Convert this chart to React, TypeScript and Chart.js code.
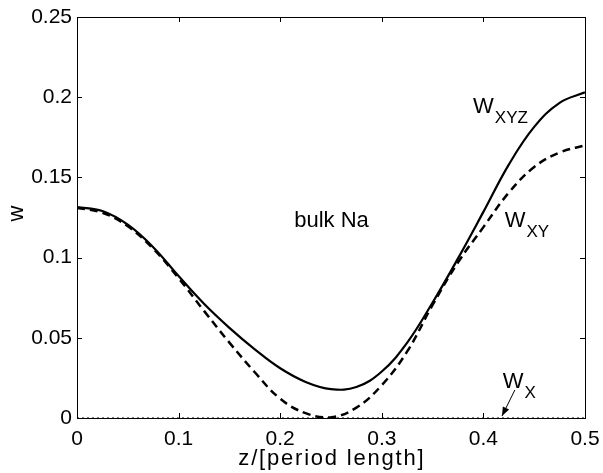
import React, { useEffect, useRef } from "react";
import { Chart, registerables } from "chart.js";

Chart.register(...registerables);

// z / [period length]
const zValues = [0, 0.025, 0.05, 0.075, 0.1, 0.125, 0.15, 0.175, 0.2, 0.225, 0.25, 0.275, 0.3, 0.325, 0.35, 0.375, 0.4, 0.425, 0.45, 0.475, 0.5];
// W_XYZ (solid)
const wXYZ = [0.1315, 0.129, 0.1205, 0.1065, 0.0885, 0.0712, 0.0562, 0.0428, 0.031, 0.0225, 0.018, 0.0193, 0.029, 0.047, 0.072, 0.0995, 0.1285, 0.158, 0.1815, 0.1965, 0.203];
// W_XY (dashed)
const wXY = [0.131, 0.128, 0.1195, 0.1055, 0.0872, 0.0668, 0.047, 0.0285, 0.012, 0.003, 0.0005, 0.0065, 0.0205, 0.0415, 0.0705, 0.097, 0.119, 0.1405, 0.1565, 0.1655, 0.17];
// W_X (dotted, along zero)
const wX = [0, 0, 0, 0, 0, 0, 0, 0, 0, 0, 0, 0, 0, 0, 0, 0, 0, 0, 0, 0, 0];

const xTicks = [0, 0.1, 0.2, 0.3, 0.4, 0.5];
const yTicks = [0, 0.05, 0.1, 0.15, 0.2, 0.25];

const FONT = '"Liberation Sans", Arial, Helvetica, sans-serif';

const toPts = (ys: number[]) => zValues.map((x, i) => ({ x, y: ys[i] }));

function drawLabel(ctx: CanvasRenderingContext2D, x: number, y: number, main: string, sub: string) {
  ctx.font = `22px ${FONT}`;
  ctx.textAlign = "left";
  ctx.textBaseline = "alphabetic";
  ctx.fillText(main, x, y);
  const w = ctx.measureText(main).width;
  ctx.font = `17px ${FONT}`;
  ctx.fillText(sub, x + w + 1, y + 10);
}

function drawSpaced(ctx: CanvasRenderingContext2D, text: string, cx: number, y: number, sp: number) {
  const chars = Array.from(text);
  const widths = chars.map((c) => ctx.measureText(c).width);
  const total = widths.reduce((s, w) => s + w, 0) + sp * (chars.length - 1);
  let x = cx - total / 2;
  ctx.textAlign = "left";
  chars.forEach((c, i) => {
    ctx.fillText(c, x, y);
    x += widths[i] + sp;
  });
}

const overlay = {
  id: "overlay",
  afterDatasetsDraw(chart: any) {
    const { ctx, chartArea: a, scales } = chart;
    const xs = scales.x;
    const ys = scales.y;
    ctx.save();
    ctx.strokeStyle = "#000";
    ctx.fillStyle = "#000";
    ctx.lineWidth = 1;
    ctx.setLineDash([]);
    // box
    ctx.strokeRect(Math.round(a.left) + 0.5, Math.round(a.top) + 0.5, Math.round(a.right - a.left), Math.round(a.bottom - a.top));
    // inward ticks
    const tl = 5;
    ctx.beginPath();
    xTicks.forEach((v) => {
      const px = Math.round(xs.getPixelForValue(v)) + 0.5;
      ctx.moveTo(px, a.bottom);
      ctx.lineTo(px, a.bottom - tl);
      ctx.moveTo(px, a.top);
      ctx.lineTo(px, a.top + tl);
    });
    yTicks.forEach((v) => {
      const py = Math.round(ys.getPixelForValue(v)) + 0.5;
      ctx.moveTo(a.left, py);
      ctx.lineTo(a.left + tl, py);
      ctx.moveTo(a.right, py);
      ctx.lineTo(a.right - tl, py);
    });
    ctx.stroke();

    // annotations
    drawLabel(ctx, xs.getPixelForValue(0.3898), ys.getPixelForValue(0.19), "W", "XYZ");
    drawLabel(ctx, xs.getPixelForValue(0.421), ys.getPixelForValue(0.119), "W", "XY");
    drawLabel(ctx, xs.getPixelForValue(0.419), ys.getPixelForValue(0.0187), "W", "X");

    ctx.font = `22px ${FONT}`;
    ctx.textAlign = "center";
    ctx.textBaseline = "alphabetic";
    ctx.fillText("bulk Na", xs.getPixelForValue(0.2505), ys.getPixelForValue(0.119));

    // arrow
    const x1 = xs.getPixelForValue(0.431), y1 = ys.getPixelForValue(0.0175);
    const x2 = xs.getPixelForValue(0.4183), y2 = ys.getPixelForValue(0.0012);
    ctx.beginPath();
    ctx.moveTo(x1, y1);
    ctx.lineTo(x2, y2);
    ctx.stroke();
    const ang = Math.atan2(y2 - y1, x2 - x1);
    const hl = 9, hw = 3.5;
    ctx.beginPath();
    ctx.moveTo(x2, y2);
    ctx.lineTo(x2 - hl * Math.cos(ang) + hw * Math.sin(ang), y2 - hl * Math.sin(ang) - hw * Math.cos(ang));
    ctx.lineTo(x2 - hl * Math.cos(ang) - hw * Math.sin(ang), y2 - hl * Math.sin(ang) + hw * Math.cos(ang));
    ctx.closePath();
    ctx.fill();

    // axis titles
    ctx.font = `22px ${FONT}`;
    drawSpaced(ctx, "z/[period length]", (a.left + a.right) / 2, a.bottom + 47, 1.8);
    ctx.textAlign = "center";
    ctx.save();
    ctx.translate(23, (a.top + a.bottom) / 2 - 4);
    ctx.rotate(-Math.PI / 2);
    ctx.fillText("w", 0, 0);
    ctx.restore();
    ctx.restore();
  },
};

export default function App() {
  const ref = useRef<HTMLCanvasElement>(null);
  useEffect(() => {
    if (!ref.current) return;
    const chart = new Chart(ref.current, {
      type: "line",
      data: {
        datasets: [
          {
            label: "W_X",
            data: toPts(wX),
            borderColor: "#000",
            borderWidth: 1,
            borderDash: [2, 3],
            pointRadius: 0,
            fill: false,
          },
          {
            label: "W_XY",
            data: toPts(wXY),
            borderColor: "#000",
            borderWidth: 2.5,
            borderDash: [8, 5],
            pointRadius: 0,
            tension: 0.4,
            fill: false,
          },
          {
            label: "W_XYZ",
            data: toPts(wXYZ),
            borderColor: "#000",
            borderWidth: 2.2,
            pointRadius: 0,
            tension: 0.4,
            fill: false,
          },
        ],
      },
      options: {
        responsive: false,
        animation: false,
        devicePixelRatio: 1,
        layout: { padding: { left: 0, top: 17, right: 18, bottom: 0 } },
        plugins: { legend: { display: false }, tooltip: { enabled: false } },
        scales: {
          x: {
            type: "linear",
            min: 0,
            max: 0.5,
            afterFit: (s: any) => {
              s.height = 55;
              s.paddingLeft = 0;
              s.paddingRight = 0;
            },
            afterBuildTicks: (s: any) => {
              s.ticks = xTicks.map((v) => ({ value: v }));
            },
            grid: { display: false, drawTicks: false },
            border: { display: false },
            ticks: {
              padding: 9,
              color: "#000",
              font: { family: FONT, size: 21 },
              maxRotation: 0,
              callback: (v: any) => String(Number(Number(v).toFixed(2))),
            },
          },
          y: {
            type: "linear",
            min: 0,
            max: 0.25,
            afterFit: (s: any) => {
              s.width = 77;
              s.paddingTop = 0;
              s.paddingBottom = 0;
            },
            afterBuildTicks: (s: any) => {
              s.ticks = yTicks.map((v) => ({ value: v }));
            },
            grid: { display: false, drawTicks: false },
            border: { display: false },
            ticks: {
              padding: 5,
              color: "#000",
              font: { family: FONT, size: 21 },
              callback: (v: any) => String(Number(Number(v).toFixed(2))),
            },
          },
        },
      },
      plugins: [overlay],
    } as any);
    return () => chart.destroy();
  }, []);
  return (
    <div style={{ position: "fixed", left: 0, top: 0, width: 603, height: 473, background: "#fff" }}>
      <canvas ref={ref} width={603} height={473} />
    </div>
  );
}
